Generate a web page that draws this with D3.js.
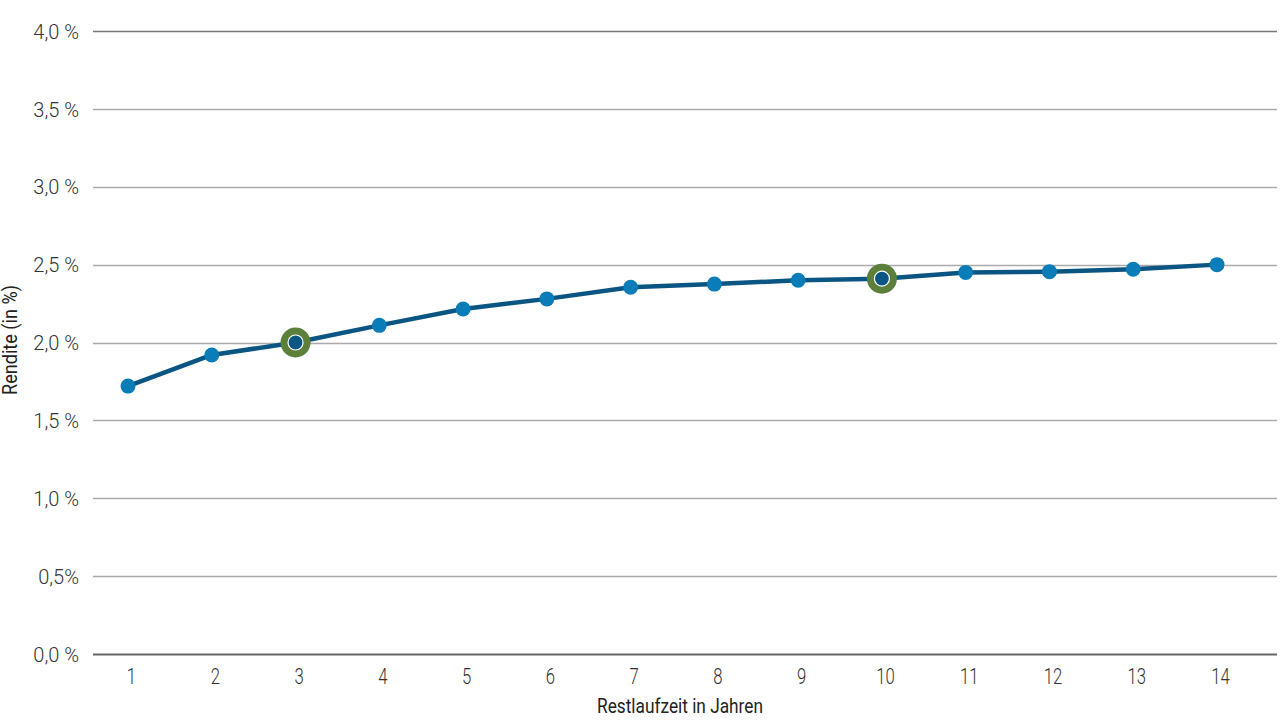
<!DOCTYPE html>
<html>
<head>
<meta charset="utf-8">
<script src="https://cdn.jsdelivr.net/npm/d3@7"></script>
<style>
  body { margin: 0; background: #fff; }
  text { font-family: Roboto, "Noto Sans", sans-serif; }
</style>
</head>
<body>
<script>
var years = [1, 2, 3, 4, 5, 6, 7, 8, 9, 10, 11, 12, 13, 14];
var yields = [1.72, 1.92, 2.00, 2.11, 2.215, 2.28, 2.355, 2.375, 2.40, 2.41, 2.45, 2.455, 2.47, 2.50];
var highlighted = [3, 10];
var yTicks = [0, 0.5, 1, 1.5, 2, 2.5, 3, 3.5, 4];
var yTickLabels = ['0,0 %', '0,5%', '1,0 %', '1,5 %', '2,0 %', '2,5 %', '3,0 %', '3,5 %', '4,0 %'];

var w = 1280, h = 720;
var m = {top: 31, right: 3, bottom: 66, left: 93};

var svg = d3.select('body')
.append('svg')
.attr('width', w)
.attr('height', h);

var x = d3.scalePoint()
.domain(years)
.range([m.left + 35, w - m.right - 60]);

var y = d3.scaleLinear()
.domain([0, 4])
.range([h - m.bottom, m.top]);

// grid lines
svg.append('g')
.selectAll('line')
.data(yTicks)
.enter().append('line')
.attr('x1', m.left)
.attr('x2', w - m.right)
.attr('y1', function(d) { return Math.round(y(d)) + 0.5; })
.attr('y2', function(d) { return Math.round(y(d)) + 0.5; })
.attr('stroke', function(d) { return d === 0 ? '#666' : (d === 4 ? '#777' : '#aaa'); })
.attr('stroke-width', function(d) { return d === 0 ? 2 : 1.3; });

// y axis labels
var yAxis = d3.axisLeft(y)
.tickValues(yTicks)
.tickSize(0)
.tickPadding(0)
.tickFormat(function(d, i) { return yTickLabels[i]; });

svg.append('g')
.attr('transform', 'translate(' + (m.left - 14) + ',0)')
.call(yAxis)
.call(function(g) { g.select('.domain').remove(); })
.selectAll('text')
.attr('font-family', 'Roboto')
.attr('font-weight', 300)
.attr('font-size', 20)
.attr('fill', '#333')
.attr('dy', '0.36em');

// x axis labels
var xAxis = d3.axisBottom(x)
.tickSize(0)
.tickPadding(0);

svg.append('g')
.attr('transform', 'translate(0,' + (h - m.bottom + 30) + ')')
.call(xAxis)
.call(function(g) { g.select('.domain').remove(); })
.selectAll('text')
.attr('font-family', 'Roboto')
.attr('font-weight', 300)
.attr('font-size', 22)
.attr('fill', '#333')
.attr('dy', 0)
.attr('transform', 'translate(3,0)scale(0.76,1)');

// axis titles
svg.append('text')
.attr('x', 680)
.attr('y', 713)
.attr('text-anchor', 'middle')
.attr('font-size', 21)
.attr('fill', '#222')
.attr('textLength', 166)
.attr('lengthAdjust', 'spacingAndGlyphs')
.text('Restlaufzeit in Jahren');

svg.append('text')
.attr('transform', 'translate(17,340)rotate(-90)')
.attr('text-anchor', 'middle')
.attr('font-size', 19.5)
.attr('fill', '#222')
.attr('textLength', 110)
.attr('lengthAdjust', 'spacingAndGlyphs')
.text('Rendite (in %)');

// line
var line = d3.line()
.x(function(d, i) { return x(years[i]); })
.y(function(d) { return y(d); });

svg.append('path')
.datum(yields)
.attr('d', line)
.attr('fill', 'none')
.attr('stroke', '#0b5583')
.attr('stroke-width', 4.5)
.attr('stroke-linejoin', 'round');

// markers
var pts = svg.append('g')
.selectAll('g')
.data(yields)
.enter().append('g')
.attr('transform', function(d, i) { return 'translate(' + x(years[i]) + ',' + y(d) + ')'; });

pts.each(function(d, i) {
    var g = d3.select(this);
    if (highlighted.indexOf(years[i]) >= 0) {
        g.append('circle').attr('r', 15).attr('fill', '#5d7f3c');
        g.append('circle').attr('r', 7.5).attr('fill', '#0b5583')
        .attr('stroke', '#fff').attr('stroke-width', 1.2);
    } else {
        g.append('circle').attr('r', 7.5).attr('fill', '#0a7db8');
    }
});
</script>
</body>
</html>
